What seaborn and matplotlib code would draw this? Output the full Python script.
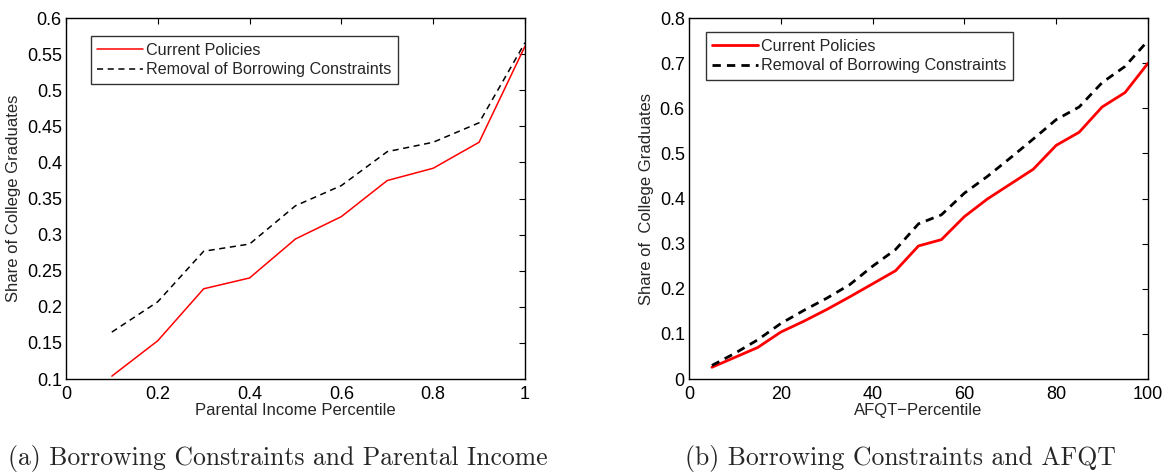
import numpy as np
import pandas as pd
import matplotlib
matplotlib.use("Agg")
import matplotlib.pyplot as plt
import seaborn as sns

# ==========================================
# DATA
# ==========================================

income_pct = [0.1, 0.2, 0.3, 0.4, 0.5, 0.6, 0.7, 0.8, 0.9, 1.0]
income_current = [0.104, 0.153, 0.225, 0.240, 0.294, 0.325, 0.375, 0.392, 0.428, 0.561]
income_removal = [0.165, 0.207, 0.277, 0.287, 0.340, 0.368, 0.415, 0.428, 0.455, 0.566]

afqt_pct = [5, 10, 15, 20, 25, 30, 35, 40, 45, 50, 55, 60, 65, 70, 75, 80, 85, 90, 95, 100]
afqt_current = [0.026, 0.048, 0.070, 0.104, 0.128, 0.154, 0.182, 0.211, 0.240, 0.295,
                0.309, 0.360, 0.399, 0.432, 0.465, 0.518, 0.547, 0.603, 0.635, 0.700]
afqt_removal = [0.030, 0.057, 0.087, 0.123, 0.152, 0.179, 0.209, 0.250, 0.287, 0.344,
                0.364, 0.412, 0.449, 0.490, 0.532, 0.575, 0.603, 0.657, 0.693, 0.750]

label_current = "Current Policies"
label_removal = "Removal of Borrowing Constraints"

# ==========================================
# STYLE
# ==========================================

sns.set_theme(style="white")
plt.rcParams['font.family'] = ['Liberation Sans', 'DejaVu Sans']
plt.rcParams['xtick.direction'] = 'in'
plt.rcParams['ytick.direction'] = 'in'
plt.rcParams['xtick.top'] = True
plt.rcParams['ytick.right'] = True
plt.rcParams['xtick.major.size'] = 4
plt.rcParams['ytick.major.size'] = 4
plt.rcParams['xtick.major.width'] = 0.8
plt.rcParams['ytick.major.width'] = 0.8

fig = plt.figure(figsize=(11.63, 4.73), dpi=100)
ax1 = fig.add_axes([0.0567, 0.1987, 0.3947, 0.763])
ax2 = fig.add_axes([0.5924, 0.1987, 0.3947, 0.763])


def style_axes(ax):
    for s in ax.spines.values():
        s.set_color("black")
        s.set_linewidth(1.0)
    ax.tick_params(axis="both", which="both", labelsize=13, colors="black",
                   top=True, right=True)
    ax.tick_params(axis="x", pad=5)
    ax.tick_params(axis="y", pad=3)


def style_legend(ax, anchor):
    leg = ax.legend(loc="upper left", bbox_to_anchor=anchor, borderaxespad=0,
                    fontsize=11.6, frameon=True, fancybox=False, handlelength=2.8,
                    borderpad=0.4, labelspacing=0.3, handletextpad=0.2)
    leg.get_frame().set_edgecolor("black")
    leg.get_frame().set_linewidth(1.0)


# ==========================================
# LEFT - PARENTAL INCOME
# ==========================================

sns.lineplot(x=income_pct, y=income_current, ax=ax1, color="red", linewidth=1.1,
             label=label_current)
sns.lineplot(x=income_pct, y=income_removal, ax=ax1, color="black", linewidth=1.1,
             linestyle=(0, (4, 3)), label=label_removal)
ax1.set_xlim(0, 1)
ax1.set_ylim(0.1, 0.6)
ax1.set_xticks([0, 0.2, 0.4, 0.6, 0.8, 1.0])
ax1.set_xticklabels(["0", "0.2", "0.4", "0.6", "0.8", "1"])
ax1.set_yticks(np.arange(0.1, 0.6001, 0.05))
ax1.set_yticklabels(["0.1", "0.15", "0.2", "0.25", "0.3", "0.35", "0.4", "0.45",
                     "0.5", "0.55", "0.6"])
ax1.set_xlabel("Parental Income Percentile", fontsize=12, labelpad=0)
ax1.set_ylabel("Share of College Graduates", fontsize=12, labelpad=4)
style_axes(ax1)
style_legend(ax1, (0.0545, 0.950))

# ==========================================
# RIGHT - AFQT
# ==========================================

sns.lineplot(x=afqt_pct, y=afqt_current, ax=ax2, color="red", linewidth=2.0,
             label=label_current)
sns.lineplot(x=afqt_pct, y=afqt_removal, ax=ax2, color="black", linewidth=2.0,
             linestyle=(0, (3, 2.2)), label=label_removal)
ax2.set_xlim(0, 100)
ax2.set_ylim(0, 0.8)
ax2.set_xticks([0, 20, 40, 60, 80, 100])
ax2.set_yticks(np.arange(0, 0.8001, 0.1))
ax2.set_yticklabels(["0", "0.1", "0.2", "0.3", "0.4", "0.5", "0.6", "0.7", "0.8"])
ax2.set_xlabel("AFQT\u2212Percentile", fontsize=12, labelpad=0)
ax2.set_ylabel("Share of  College Graduates", fontsize=12, labelpad=4)
style_axes(ax2)
style_legend(ax2, (0.037, 0.961))

# ==========================================
# CAPTIONS
# ==========================================

fig.text(0.0069, 0.03, "(a) Borrowing Constraints and Parental Income",
         family=["cmr10", "DejaVu Serif"], fontsize=18.5, ha="left", va="center")
fig.text(0.589, 0.03, "(b) Borrowing Constraints and AFQT",
         family=["cmr10", "DejaVu Serif"], fontsize=18.5, ha="left", va="center")

fig.savefig("out.png", dpi=100, facecolor="white")
